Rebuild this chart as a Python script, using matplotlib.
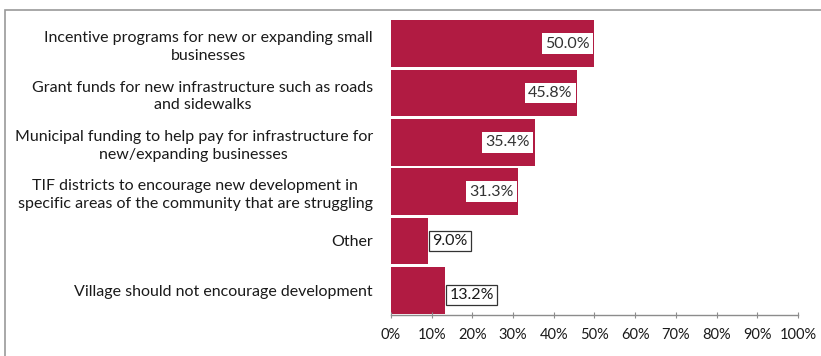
import matplotlib.pyplot as plt
from matplotlib.patches import Rectangle
from matplotlib.ticker import FuncFormatter

BAR = "#B11B42"
TEXT = "#1A1A1A"
LABEL_TEXT = "#333333"
AXIS = "#8C8C8C"

categories = [
    "Incentive programs for new or expanding small\nbusinesses",
    "Grant funds for new infrastructure such as roads\nand sidewalks",
    "Municipal funding to help pay for infrastructure for\nnew/expanding businesses",
    "TIF districts to encourage new development in\nspecific areas of the community that are struggling",
    "Other",
    "Village should not encourage development",
]
values = [50.0, 45.8, 35.4, 31.3, 9.0, 13.2]
x_ticks = [0, 10, 20, 30, 40, 50, 60, 70, 80, 90, 100]

plt.rcParams["font.family"] = ["Lato", "DejaVu Sans"]

fig = plt.figure(figsize=(8.21, 3.56), dpi=100)
ax = fig.add_axes([0.4762, 0.1152, 0.4957, 0.8314])

# outer chart frame, runs off the right and bottom edges
fig.patches.append(Rectangle((5 / 821, -0.05), 1.1, 1 - 10 / 356 + 0.05,
                             transform=fig.transFigure, fill=False,
                             edgecolor="#9A9A9A", linewidth=1.2))

y = list(range(len(categories)))
ax.barh(y, values, height=0.95, color=BAR, edgecolor="none")

ax.set_xlim(0, 100)
ax.set_ylim(len(categories) - 0.5, -0.5)
ax.set_xticks(x_ticks)
ax.xaxis.set_major_formatter(FuncFormatter(lambda v, _: f"{v:.0f}%"))
ax.set_yticks(y)
ax.set_yticklabels(categories, fontsize=11.5, color=TEXT, multialignment="center",
                   linespacing=1.35)
ax.tick_params(axis="y", length=0, pad=13)
ax.tick_params(axis="x", direction="inout", length=5, width=0.8, color=AXIS,
               labelsize=10.5, labelcolor=TEXT, pad=7)

for side in ("top", "right", "left"):
    ax.spines[side].set_visible(False)
ax.spines["bottom"].set_color(AXIS)
ax.spines["bottom"].set_linewidth(1.0)

for yi, v in zip(y, values):
    label = f"{v:.1f}%"
    if v > 20:
        ax.text(v - 1.2, yi, label, ha="right", va="center", fontsize=11.5,
                color=LABEL_TEXT,
                bbox=dict(boxstyle="square,pad=0.2", facecolor="white", edgecolor="none"))
    else:
        ax.text(v + 1.2, yi + (0.1 if v > 10 else 0), label, ha="left", va="center",
                fontsize=11.5, color=TEXT,
                bbox=dict(boxstyle="square,pad=0.2", facecolor="white",
                          edgecolor="#333333", linewidth=0.9))

fig.savefig("out.png", dpi=100, facecolor="white")
